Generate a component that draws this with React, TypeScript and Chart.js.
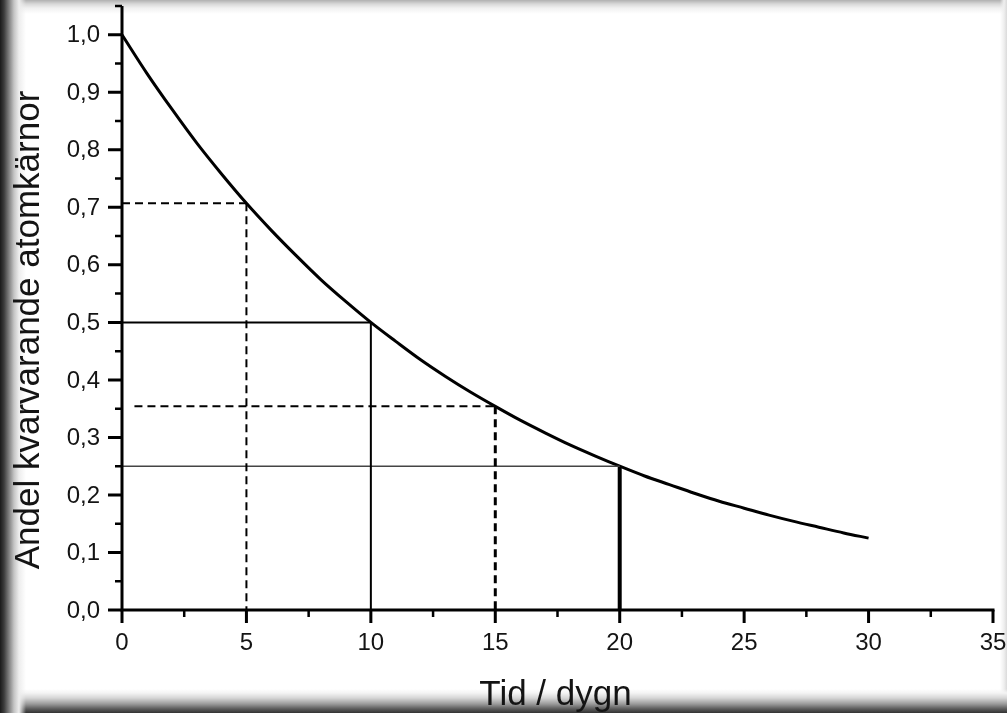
import React, { useEffect, useRef } from "react";
import { Chart, registerables } from "chart.js";

Chart.register(...registerables);

// Decay curve: fraction of remaining nuclei vs time (days)
const curveDays = [0, 1, 2, 3, 4, 5, 6, 7, 8, 9, 10, 11, 12, 13, 14, 15, 16, 17, 18, 19, 20, 21, 22, 23, 24, 25, 26, 27, 28, 29, 30];
const curveFraction = [1.0, 0.933, 0.871, 0.812, 0.758, 0.707, 0.66, 0.616, 0.574, 0.536, 0.5, 0.467, 0.435, 0.406, 0.379, 0.354, 0.33, 0.308, 0.287, 0.268, 0.25, 0.233, 0.218, 0.203, 0.189, 0.177, 0.165, 0.154, 0.144, 0.134, 0.125];

// Guide lines
const guide5H = [{ x: 0, y: 0.707 }, { x: 5, y: 0.707 }];
const guide5V = [{ x: 5, y: 0.707 }, { x: 5, y: 0 }];
const guide10H = [{ x: 0, y: 0.5 }, { x: 10, y: 0.5 }];
const guide10V = [{ x: 10, y: 0.5 }, { x: 10, y: 0 }];
const guide15H = [{ x: 0.5, y: 0.354 }, { x: 15, y: 0.354 }];
const guide15V = [{ x: 15, y: 0.354 }, { x: 15, y: 0 }];
const guide20H = [{ x: 0, y: 0.25 }, { x: 20, y: 0.25 }];
const guide20V = [{ x: 20, y: 0.25 }, { x: 20, y: 0 }];

// Ticks
const xMajorTicks = [0, 5, 10, 15, 20, 25, 30, 35];
const xMinorTicks = [2.5, 7.5, 12.5, 17.5, 22.5, 27.5, 32.5];
const xTickLabels = ["0", "5", "10", "15", "20", "25", "30", "35"];
const yMajorTicks = [0, 0.1, 0.2, 0.3, 0.4, 0.5, 0.6, 0.7, 0.8, 0.9, 1.0];
const yMinorTicks = [0.05, 0.15, 0.25, 0.35, 0.45, 0.55, 0.65, 0.75, 0.85, 0.95, 1.05];
const yTickLabels = ["0,0", "0,1", "0,2", "0,3", "0,4", "0,5", "0,6", "0,7", "0,8", "0,9", "1,0"];

const xTitle = "Tid / dygn";
const yTitle = "Andel kvarvarande atomkärnor";

const FONT = "'Liberation Sans', Arial, sans-serif";
const TEXT = "#141414";

const axesPlugin = {
  id: "customAxes",
  afterDatasetsDraw(chart: any) {
    const { ctx, scales } = chart;
    const xs = scales.x;
    const ys = scales.y;
    const x0 = xs.getPixelForValue(0);
    const x35 = xs.getPixelForValue(35);
    const y0 = ys.getPixelForValue(0);
    const yTop = ys.getPixelForValue(1.05);
    ctx.save();
    ctx.strokeStyle = "#000";
    ctx.lineCap = "butt";
    // axis lines
    ctx.lineWidth = 3;
    ctx.beginPath();
    ctx.moveTo(x0, yTop);
    ctx.lineTo(x0, y0 + 1.5);
    ctx.moveTo(x0 - 1.5, y0);
    ctx.lineTo(x35 + 1.5, y0);
    ctx.stroke();
    // y ticks
    ctx.lineWidth = 3;
    ctx.beginPath();
    yMajorTicks.forEach((v) => {
      const p = ys.getPixelForValue(v);
      ctx.moveTo(x0 - 14, p);
      ctx.lineTo(x0, p);
    });
    ctx.stroke();
    ctx.lineWidth = 2.5;
    ctx.beginPath();
    yMinorTicks.forEach((v) => {
      const p = ys.getPixelForValue(v);
      ctx.moveTo(x0 - 7, p);
      ctx.lineTo(x0, p);
    });
    ctx.stroke();
    // x ticks
    ctx.lineWidth = 3;
    ctx.beginPath();
    xMajorTicks.forEach((v) => {
      const p = xs.getPixelForValue(v);
      ctx.moveTo(p, y0);
      ctx.lineTo(p, y0 + 13);
    });
    ctx.stroke();
    ctx.lineWidth = 2.5;
    ctx.beginPath();
    xMinorTicks.forEach((v) => {
      const p = xs.getPixelForValue(v);
      ctx.moveTo(p, y0);
      ctx.lineTo(p, y0 + 7);
    });
    ctx.stroke();
    // tick labels
    ctx.fillStyle = TEXT;
    ctx.font = `24px ${FONT}`;
    ctx.textAlign = "right";
    ctx.textBaseline = "middle";
    yMajorTicks.forEach((v, i) => {
      ctx.fillText(yTickLabels[i], 100, ys.getPixelForValue(v) + 1);
    });
    ctx.textAlign = "center";
    ctx.textBaseline = "middle";
    xMajorTicks.forEach((v, i) => {
      ctx.fillText(xTickLabels[i], xs.getPixelForValue(v), 643);
    });
    // titles
    ctx.font = `35px ${FONT}`;
    ctx.textAlign = "center";
    ctx.textBaseline = "alphabetic";
    ctx.fillText(xTitle, (x0 + x35) / 2 - 2, 705);
    ctx.translate(39, 330);
    ctx.rotate(-Math.PI / 2);
    ctx.fillText(yTitle, 0, 0);
    ctx.restore();
  },
};

export default function App() {
  const ref = useRef<HTMLCanvasElement>(null);
  useEffect(() => {
    if (!ref.current) return;
    const line = (data: any, width: number, dash: number[] = [], color = "#000") => ({
      data,
      showLine: true,
      borderColor: color,
      borderWidth: width,
      borderDash: dash,
      pointRadius: 0,
      fill: false,
    });
    const chart = new Chart(ref.current, {
      type: "scatter",
      data: {
        datasets: [
          line(guide5H, 2, [8, 5]),
          line(guide5V, 2, [8, 5]),
          line(guide10H, 2),
          line(guide10V, 2),
          line(guide15H, 2, [8, 5]),
          line(guide15V, 3, [8, 5]),
          line(guide20H, 1.5, [], "#444"),
          line(guide20V, 4),
          {
            data: curveDays.map((d, i) => ({ x: d, y: curveFraction[i] })),
            showLine: true,
            borderColor: "#000",
            borderWidth: 3,
            pointRadius: 0,
            cubicInterpolationMode: "monotone",
            fill: false,
          } as any,
        ],
      },
      options: {
        animation: false,
        responsive: false,
        maintainAspectRatio: false,
        layout: { padding: { left: 122, right: 14, top: 6, bottom: 103 } },
        plugins: { legend: { display: false }, tooltip: { enabled: false } },
        scales: {
          x: { type: "linear", min: 0, max: 35, display: false },
          y: { type: "linear", min: 0, max: 1.05, display: false },
        },
      },
      plugins: [axesPlugin],
    });
    return () => chart.destroy();
  }, []);

  const edge = { position: "absolute" as const, pointerEvents: "none" as const };
  return (
    <div style={{ position: "fixed", left: 0, top: 0, width: 1007, height: 713, background: "#fff", overflow: "hidden" }}>
      <div style={{ ...edge, left: 0, top: 0, width: 1007, height: 14, background: "linear-gradient(to bottom, #b0b0b0 0px, #d8d8d8 4px, #f0f0f0 8px, rgba(255,255,255,0) 14px)" }} />
      <div style={{ ...edge, right: 0, top: 0, width: 7, height: 713, background: "linear-gradient(to left, #dadada 0px, #efefef 3px, rgba(255,255,255,0) 7px)" }} />
      <div style={{ ...edge, left: 0, bottom: 0, width: 1007, height: 24, background: "linear-gradient(to top, #333 0px, #5a5a5a 4px, #9a9a9a 9px, #d6d6d6 15px, #f4f4f4 20px, rgba(255,255,255,0) 24px)" }} />
      <div style={{ ...edge, left: 0, top: 0, width: 26, height: 713, background: "linear-gradient(to right, #1a1a1a 0px, #3c3c3c 4px, #808080 9px, #c4c4c4 14px, #ededed 19px, rgba(255,255,255,0) 26px)" }} />
      <canvas ref={ref} width={1007} height={713} style={{ position: "absolute", left: 0, top: 0 }} />
    </div>
  );
}
